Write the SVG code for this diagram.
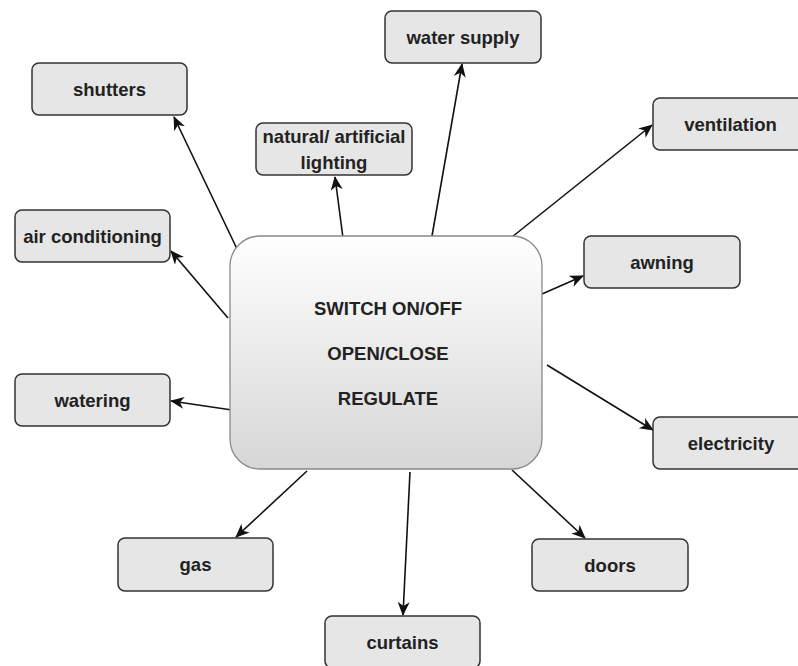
<svg xmlns="http://www.w3.org/2000/svg" width="798" height="666" viewBox="0 0 798 666">
  <defs>
    <linearGradient id="hubFill" x1="0" y1="0" x2="0" y2="1">
      <stop offset="0" stop-color="#ffffff"/>
      <stop offset="1" stop-color="#d6d6d6"/>
    </linearGradient>
    <marker id="arrow" markerUnits="userSpaceOnUse" markerWidth="16" markerHeight="14" refX="13" refY="6" orient="auto">
      <path d="M0,0 L14,6 L0,12 L4,6 Z" fill="#111"/>
    </marker>
  </defs>
  <style>
    .box { fill: #e6e6e6; stroke: #333; stroke-width: 1.5; }
    .lbl { font-family: "Liberation Sans", Arial, sans-serif; font-weight: bold; font-size: 18.5px; fill: #222; text-anchor: middle; }
    .hubtxt { font-family: "Liberation Sans", Arial, sans-serif; font-weight: bold; font-size: 18.5px; fill: #222; text-anchor: middle; }
    .edge { stroke: #111; stroke-width: 1.6; fill: none; marker-end: url(#arrow); }
  </style>
  <rect width="798" height="666" fill="#ffffff"/>

  <!-- connectors from the central control box -->
  <g id="connectors">
    <line class="edge" x1="238" y1="251" x2="174" y2="117"/>
    <line class="edge" x1="343" y1="238" x2="335" y2="177"/>
    <line class="edge" x1="432" y1="236" x2="462" y2="64"/>
    <line class="edge" x1="512" y1="237" x2="652" y2="125"/>
    <line class="edge" x1="542" y1="294" x2="583" y2="276"/>
    <line class="edge" x1="228" y1="318" x2="171" y2="251"/>
    <line class="edge" x1="232" y1="410" x2="171" y2="401"/>
    <line class="edge" x1="547" y1="365" x2="653" y2="430"/>
    <line class="edge" x1="307" y1="471" x2="236" y2="537"/>
    <line class="edge" x1="410" y1="472" x2="403" y2="615"/>
    <line class="edge" x1="512" y1="470" x2="585" y2="538"/>
  </g>

  <!-- central control box -->
  <g id="control">
    <rect x="230" y="236" width="312" height="233" rx="30" ry="30" fill="url(#hubFill)" stroke="#8a8a8a" stroke-width="1.3"/>
    <text class="hubtxt" x="388" y="315">SWITCH ON/OFF</text>
    <text class="hubtxt" x="388" y="360">OPEN/CLOSE</text>
    <text class="hubtxt" x="388" y="405">REGULATE</text>
  </g>

  <g id="shutters">
    <rect class="box" x="32" y="63" width="155" height="52" rx="7"/>
    <text class="lbl" x="109.5" y="96">shutters</text>
  </g>
  <g id="lighting">
    <rect class="box" x="256" y="123" width="156" height="52" rx="7"/>
    <text class="lbl" x="334" y="143">natural/ artificial</text>
    <text class="lbl" x="334" y="169">lighting</text>
  </g>
  <g id="water-supply">
    <rect class="box" x="385" y="11" width="156" height="52" rx="7"/>
    <text class="lbl" x="463" y="44">water supply</text>
  </g>
  <g id="ventilation">
    <rect class="box" x="653" y="98" width="155" height="52" rx="7"/>
    <text class="lbl" x="730.5" y="131">ventilation</text>
  </g>
  <g id="awning">
    <rect class="box" x="584" y="236" width="156" height="52" rx="7"/>
    <text class="lbl" x="662" y="269">awning</text>
  </g>
  <g id="air-conditioning">
    <rect class="box" x="15" y="210" width="155" height="52" rx="7"/>
    <text class="lbl" x="92.5" y="243">air conditioning</text>
  </g>
  <g id="watering">
    <rect class="box" x="15" y="374" width="155" height="52" rx="7"/>
    <text class="lbl" x="92.5" y="407">watering</text>
  </g>
  <g id="electricity">
    <rect class="box" x="653" y="417" width="155" height="52" rx="7"/>
    <text class="lbl" x="731" y="450">electricity</text>
  </g>
  <g id="gas">
    <rect class="box" x="118" y="538" width="155" height="53" rx="7"/>
    <text class="lbl" x="195.5" y="571">gas</text>
  </g>
  <g id="curtains">
    <rect class="box" x="325" y="616" width="155" height="52" rx="7"/>
    <text class="lbl" x="402.5" y="649">curtains</text>
  </g>
  <g id="doors">
    <rect class="box" x="532" y="539" width="156" height="52" rx="7"/>
    <text class="lbl" x="610" y="572">doors</text>
  </g>
</svg>
